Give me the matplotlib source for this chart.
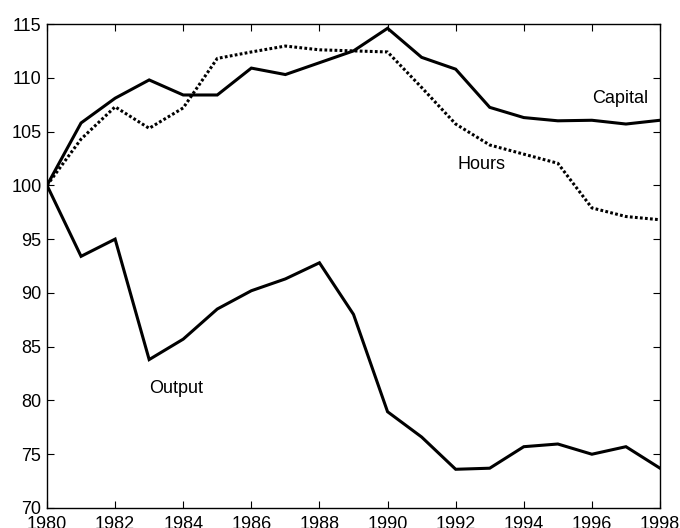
import matplotlib
matplotlib.use("Agg")
import matplotlib.pyplot as plt

years = list(range(1980, 1999))
capital = [100, 105.8, 108.1, 109.8, 108.4, 108.4, 110.9, 110.3, 111.4, 112.5,
           114.6, 111.9, 110.8, 107.25, 106.3, 106.0, 106.05, 105.7, 106.05]
hours = [100, 104.3, 107.3, 105.3, 107.2, 111.8, 112.4, 112.95, 112.6, 112.5,
         112.4, 109.1, 105.7, 103.75, 102.9, 102.05, 97.9, 97.1, 96.8]
output = [100, 93.4, 95.0, 83.8, 85.7, 88.5, 90.2, 91.3, 92.8, 88.0,
          78.95, 76.6, 73.6, 73.7, 75.7, 75.95, 75.0, 75.7, 73.7]

xticks = list(range(1980, 1999, 2))
yticks = list(range(70, 116, 5))

plt.rcParams['font.family'] = ['Liberation Sans', 'DejaVu Sans']

fig = plt.figure(figsize=(6.8, 5.28), dpi=100)
ax = fig.add_axes([47/680, 20/528, 613/680, 484/528])

ax.plot(years, capital, color='black', lw=2.2, solid_joinstyle='miter')
ax.plot(years, hours, color='black', lw=2.2, linestyle=(0, (0.9, 0.75)))
ax.plot(years, output, color='black', lw=2.2, solid_joinstyle='miter')

ax.text(1996.0, 108.1, 'Capital', fontsize=13, va='center', ha='left')
ax.text(1992.05, 101.9, 'Hours', fontsize=13, va='center', ha='left')
ax.text(1983.0, 81.1, 'Output', fontsize=13, va='center', ha='left')

ax.set_xlim(1980, 1998)
ax.set_ylim(70, 115)
ax.set_xticks(xticks)
ax.set_yticks(yticks)
ax.tick_params(direction='in', top=True, right=True, length=5, width=0.8,
               labelsize=13)
ax.tick_params(axis='y', pad=4)
ax.tick_params(axis='x', pad=6)
for s in ax.spines.values():
    s.set_linewidth(1.0)

fig.savefig('out.png', dpi=100)
